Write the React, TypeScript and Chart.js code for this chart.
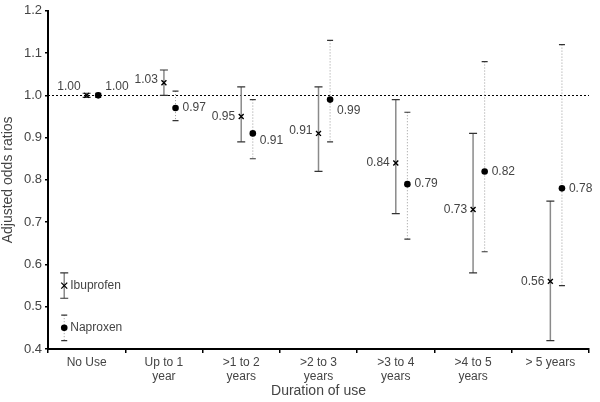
import React, { useEffect, useRef } from "react";
import { Chart, registerables } from "chart.js";

Chart.register(...registerables);

const categories: (string | string[])[] = [
  "No Use",
  ["Up to 1", "year"],
  [">1 to 2", "years"],
  [">2 to 3", "years"],
  [">3 to 4", "years"],
  [">4 to 5", "years"],
  "> 5 years",
];

const ibuprofen = [1.0, 1.03, 0.95, 0.91, 0.84, 0.73, 0.56];
const ibuLow = [0.995, 1.0, 0.89, 0.82, 0.72, 0.58, 0.42];
const ibuHigh = [1.005, 1.06, 1.02, 1.02, 0.99, 0.91, 0.75];

const naproxen = [1.0, 0.97, 0.91, 0.99, 0.79, 0.82, 0.78];
const napLow = [0.995, 0.94, 0.85, 0.89, 0.66, 0.63, 0.55];
const napHigh = [1.005, 1.01, 0.99, 1.13, 0.96, 1.08, 1.12];

const yTicks = [0.4, 0.5, 0.6, 0.7, 0.8, 0.9, 1.0, 1.1, 1.2];
const referenceValue = 1.0;

// in-chart legend (value positions of the sample markers)
const legendNames = ["Ibuprofen", "Naproxen"];
const legendValues = [0.55, 0.45];
const legendLow = [0.52, 0.42];
const legendHigh = [0.58, 0.48];
const legendX = -0.29;

const NAP_SHIFT = 0.15;
const FONT = "Arial, 'Liberation Sans', sans-serif";
const TEXT = "#444";

// label pixel nudges [dx, dy] per category (layout only)
const ibuLabelNudge = [[0, -9], [0, -3], [0, 0], [0, -3], [0, 0], [0, 0], [0, 0]];
const napLabelNudge = [[0, -9], [0, 0], [0, 7], [0, 11], [0, 0], [0, 0], [0, 0]];

function drawBar(ctx: CanvasRenderingContext2D, x: number, y1: number, y2: number, dotted: boolean) {
  ctx.save();
  ctx.lineWidth = dotted ? 1 : 1.5;
  ctx.strokeStyle = dotted ? "#9a9a9a" : "#8a8a8a";
  ctx.setLineDash(dotted ? [1, 2] : []);
  ctx.beginPath();
  ctx.moveTo(x, y1);
  ctx.lineTo(x, y2);
  ctx.stroke();
  ctx.setLineDash([]);
  ctx.strokeStyle = "#333";
  ctx.lineWidth = 1.2;
  const cw = dotted ? 3 : 4;
  ctx.beginPath();
  ctx.moveTo(x - cw, y1);
  ctx.lineTo(x + cw, y1);
  ctx.moveTo(x - cw, y2);
  ctx.lineTo(x + cw, y2);
  ctx.stroke();
  ctx.restore();
}

function drawCross(ctx: CanvasRenderingContext2D, x: number, y: number) {
  ctx.save();
  ctx.strokeStyle = "#000";
  ctx.lineWidth = 1.3;
  ctx.beginPath();
  ctx.moveTo(x - 3, y - 3);
  ctx.lineTo(x + 3, y + 3);
  ctx.moveTo(x + 3, y - 3);
  ctx.lineTo(x - 3, y + 3);
  ctx.stroke();
  ctx.restore();
}

function drawDot(ctx: CanvasRenderingContext2D, x: number, y: number) {
  ctx.save();
  ctx.fillStyle = "#000";
  ctx.beginPath();
  ctx.arc(x, y, 3.3, 0, Math.PI * 2);
  ctx.fill();
  ctx.restore();
}

const overlayPlugin = {
  id: "overlay",
  beforeDatasetsDraw(chart: any) {
    const ctx: CanvasRenderingContext2D = chart.ctx;
    const xs = chart.scales.xl;
    const ys = chart.scales.y;
    const area = chart.chartArea;
    // reference line
    ctx.save();
    ctx.strokeStyle = "#000";
    ctx.lineWidth = 1;
    ctx.setLineDash([2, 2]);
    const ry = Math.round(ys.getPixelForValue(referenceValue)) + 0.5;
    ctx.beginPath();
    ctx.moveTo(area.left, ry);
    ctx.lineTo(area.right, ry);
    ctx.stroke();
    ctx.restore();
    // error bars
    for (let i = 0; i < categories.length; i++) {
      const xi = xs.getPixelForValue(i);
      drawBar(ctx, xi, ys.getPixelForValue(ibuHigh[i]), ys.getPixelForValue(ibuLow[i]), false);
      const xn = xs.getPixelForValue(i + NAP_SHIFT);
      drawBar(ctx, xn, ys.getPixelForValue(napHigh[i]), ys.getPixelForValue(napLow[i]), true);
    }
    // legend
    const lx = xs.getPixelForValue(legendX);
    for (let k = 0; k < legendNames.length; k++) {
      drawBar(ctx, lx, ys.getPixelForValue(legendHigh[k]), ys.getPixelForValue(legendLow[k]), k === 1);
      const ly = ys.getPixelForValue(legendValues[k]);
      if (k === 0) drawCross(ctx, lx, ly);
      else drawDot(ctx, lx, ly);
      ctx.save();
      ctx.fillStyle = TEXT;
      ctx.font = `12px ${FONT}`;
      ctx.textAlign = "left";
      ctx.textBaseline = "middle";
      ctx.fillText(legendNames[k], lx + 6, ly);
      ctx.restore();
    }
  },
  afterDatasetsDraw(chart: any) {
    const ctx: CanvasRenderingContext2D = chart.ctx;
    const xs = chart.scales.xl;
    const ys = chart.scales.y;
    ctx.save();
    ctx.fillStyle = TEXT;
    ctx.font = `12px ${FONT}`;
    ctx.textBaseline = "middle";
    for (let i = 0; i < categories.length; i++) {
      const xi = xs.getPixelForValue(i);
      const yi = ys.getPixelForValue(ibuprofen[i]);
      ctx.textAlign = "right";
      ctx.fillText(ibuprofen[i].toFixed(2), xi - 6 + ibuLabelNudge[i][0], yi + ibuLabelNudge[i][1]);
      const xn = xs.getPixelForValue(i + NAP_SHIFT);
      const yn = ys.getPixelForValue(naproxen[i]);
      ctx.textAlign = "left";
      ctx.fillText(naproxen[i].toFixed(2), xn + 7 + napLabelNudge[i][0], yn + napLabelNudge[i][1]);
    }
    ctx.restore();
  },
};

export default function App() {
  const ref = useRef<HTMLCanvasElement | null>(null);
  useEffect(() => {
    document.body.style.margin = "0";
    const canvas = ref.current!;
    const chart = new Chart(canvas, {
      type: "scatter",
      data: {
        labels: categories as any,
        datasets: [
          {
            label: "Ibuprofen",
            data: ibuprofen.map((v, i) => ({ x: i, y: v })),
            xAxisID: "xl",
            yAxisID: "y",
            pointStyle: "crossRot",
            pointRadius: 3.5,
            borderColor: "#000",
            borderWidth: 1.4,
            backgroundColor: "#000",
          },
          {
            label: "Naproxen",
            data: naproxen.map((v, i) => ({ x: i + NAP_SHIFT, y: v })),
            xAxisID: "xl",
            yAxisID: "y",
            pointStyle: "circle",
            pointRadius: 3.3,
            borderWidth: 0,
            backgroundColor: "#000",
          },
        ],
      },
      options: {
        animation: false,
        responsive: false,
        layout: { padding: { top: 10, right: 11, left: 0, bottom: 0 } },
        plugins: { legend: { display: false }, tooltip: { enabled: false } },
        scales: {
          x: {
            type: "category",
            labels: categories as any,
            offset: true,
            position: "bottom",
            afterFit: (s: any) => {
              s.height = 53;
            },
            grid: {
              offset: true,
              drawOnChartArea: false,
              drawTicks: true,
              tickLength: 4,
              color: "#000",
              lineWidth: 1.5,
            },
            border: { color: "#000", width: 2 },
            ticks: {
              color: TEXT,
              font: { family: FONT, size: 12, lineHeight: 1.15 },
              maxRotation: 0,
              autoSkip: false,
              padding: 3,
            },
            title: {
              display: true,
              text: "Duration of use",
              color: TEXT,
              font: { family: FONT, size: 14 },
              padding: { top: 0, bottom: 2 },
            },
          },
          xl: {
            type: "linear",
            display: false,
            min: -0.5,
            max: 6.5,
          },
          y: {
            type: "linear",
            min: 0.4,
            max: 1.2,
            afterFit: (s: any) => {
              s.width = 48;
            },
            afterBuildTicks: (s: any) => {
              s.ticks = yTicks.map((v) => ({ value: v }));
            },
            grid: {
              drawOnChartArea: false,
              drawTicks: true,
              tickLength: 3,
              color: "#000",
              lineWidth: 1.5,
            },
            border: { color: "#000", width: 2 },
            ticks: {
              color: TEXT,
              font: { family: FONT, size: 13 },
              padding: 3,
              callback: (v: any) => Number(v).toFixed(1),
            },
            title: {
              display: true,
              text: "Adjusted odds ratios",
              color: TEXT,
              font: { family: FONT, size: 14 },
              padding: { top: 0, bottom: 2 },
            },
          },
        },
      },
      plugins: [overlayPlugin],
    });
    return () => chart.destroy();
  }, []);
  return (
    <div style={{ width: 600, height: 402 }}>
      <canvas ref={ref} width={600} height={402} style={{ display: "block", width: 600, height: 402 }} />
    </div>
  );
}
